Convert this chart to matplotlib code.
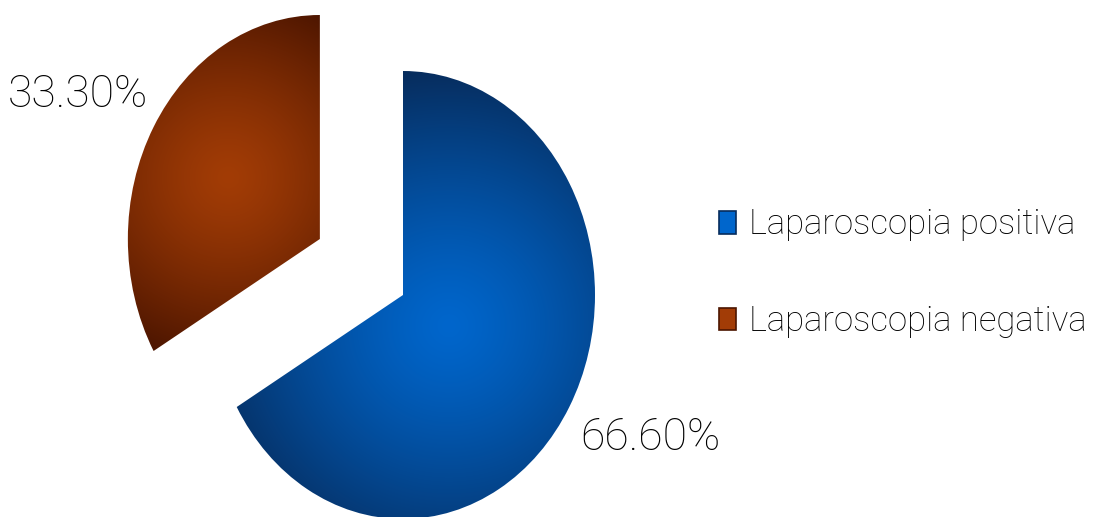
import numpy as np
import matplotlib
matplotlib.use("Agg")
import matplotlib.pyplot as plt
from matplotlib.patches import Patch
from matplotlib.colors import to_rgb

labels = ["Laparoscopia positiva", "Laparoscopia negativa"]
values = [66.6, 33.3]
explode = [0.0, 0.5]

# light (centre) / dark (rim) shade for each slice
light = ["#0066cc", "#a23c06"]
dark = ["#072c5c", "#4c1500"]

W, H = 1094, 517
# pie centre and radii in pixels (pie is slightly stretched vertically)
cx, cy, rx, ry = 403, 295, 192, 224

plt.rcParams["font.family"] = ["Roboto", "DejaVu Sans"]

fig = plt.figure(figsize=(W / 100, H / 100), dpi=100)
ax = fig.add_axes([0, 0, 1, 1])

wedges, _ = ax.pie(values, explode=explode, startangle=90, counterclock=False,
                   radius=1, center=(0, 0), colors=light)
ax.axis("off")

xs = np.linspace(-2.2, 1.3, 900)
ys = np.linspace(-1.1, 1.4, 700)
gx, gy = np.meshgrid(xs, ys)

for w, c0, c1 in zip(wedges, light, dark):
    verts = w.get_path().vertices
    # centroid of the sector
    t1, t2 = np.deg2rad(w.theta1), np.deg2rad(w.theta2)
    half = (t2 - t1) / 2
    mid = (t1 + t2) / 2
    dist = 2 * np.sin(half) / (3 * half) * w.r
    ox, oy = w.center
    mx, my = ox + dist * np.cos(mid), oy + dist * np.sin(mid)
    # distance in pixel space, normalised to the farthest point of the slice
    d = np.hypot((gx - mx) * rx, (gy - my) * ry)
    dmax = np.hypot((verts[:, 0] - mx) * rx, (verts[:, 1] - my) * ry).max()
    t = np.clip(d / dmax, 0, 1) ** 1.3
    a, b = np.array(to_rgb(c0)), np.array(to_rgb(c1))
    img = a[None, None, :] * (1 - t[..., None]) + b[None, None, :] * t[..., None]
    im = ax.imshow(img, extent=(xs[0], xs[-1], ys[0], ys[-1]), origin="lower",
                   interpolation="bilinear", zorder=2)
    im.set_clip_path(w)
    w.set_facecolor("none")
    w.set_edgecolor("none")

ax.set_aspect("auto")
ax.set_xlim(-cx / rx, (W - cx) / rx)
ax.set_ylim((cy - H) / ry, cy / ry)

fig.text(650 / W, 1 - 438 / H, "66.60%", fontsize=32, fontweight="light",
         ha="center", va="center")
fig.text(78 / W, 1 - 95 / H, "33.30%", fontsize=32, fontweight="light",
         ha="center", va="center")

handles = [Patch(facecolor=l, edgecolor=d, linewidth=1.2) for l, d in zip(light, dark)]
fig.legend(handles, labels, loc="center left", bbox_to_anchor=(719 / W, 1 - 273 / H),
           frameon=False, prop={"weight": "light", "size": 25},
           handlelength=0.49, handleheight=0.63, handletextpad=0.37,
           labelspacing=1.82, borderpad=0, borderaxespad=0)

fig.savefig("out.png", dpi=100)
